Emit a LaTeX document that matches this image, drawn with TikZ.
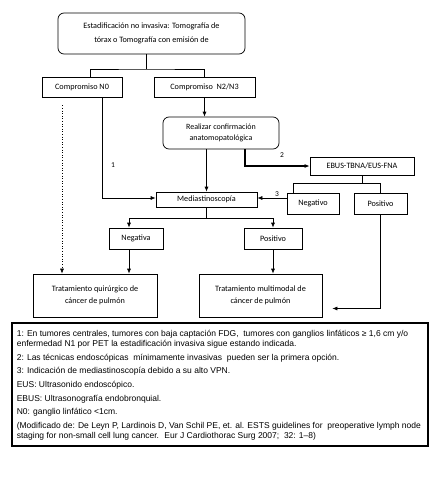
\documentclass[tikz,border=0pt]{standalone}
\usepackage{fontspec}
\setmainfont{Carlito}
\newfontfamily\notefont{Liberation Sans}
\usetikzlibrary{arrows.meta, calc, shadows}

\begin{document}
\begin{tikzpicture}[x=1pt, y=-1pt, >={Latex[length=5pt,width=4pt]}, line width=0.7pt,
  box/.style={draw, fill=white, align=center, font=\fontsize{8.2}{11.5}\selectfont, inner sep=1pt,
    drop shadow={shadow xshift=1.4pt, shadow yshift=-1.4pt, fill=black!55, opacity=1}},
  rbox/.style={draw, fill=white, align=center, rounded corners=6pt, inner sep=1pt}]
  \useasboundingbox (0,0) rectangle (433,479);

  % boxes
  \node[rbox, minimum width=187pt, minimum height=41pt, font=\fontsize{8.2}{14}\selectfont] (top) at (151.5,33.5)
    {Estadificación no invasiva: Tomografía de\\tórax o Tomografía con emisión de};
  \node[box, minimum width=80pt, minimum height=20pt] (n0) at (82,87) {Compromiso N0};
  \node[box, minimum width=101pt, minimum height=20pt] (n23) at (204.5,87) {Compromiso~ N2/N3};
  \node[rbox, minimum width=116pt, minimum height=32pt, font=\fontsize{8}{11.5}\selectfont] (real) at (221,133)
    {Realizar confirmación\\anatomopatológica};
  \node[box, minimum width=104pt, minimum height=18pt] (ebus) at (362,166) {EBUS-TBNA/EUS-FNA};
  \node[box, minimum width=101pt, minimum height=15pt] (med) at (206.5,199.5) {Mediastinoscopía};
  \node[box, minimum width=52pt, minimum height=21pt] (neg3) at (313,203.5) {Negativo};
  \node[box, minimum width=53pt, minimum height=21pt] (pos3) at (380.5,203.5) {Positivo};
  \node[box, minimum width=54pt, minimum height=21pt] (nega) at (136,238.5) {Negativa};
  \node[box, minimum width=58pt, minimum height=21pt] (posi) at (273,238.5) {Positivo};
  \node[box, minimum width=124pt, minimum height=43pt] (quir) at (95,295.5)
    {Tratamiento quirúrgico de\\cáncer de pulmón};
  \node[box, minimum width=123pt, minimum height=43pt] (multi) at (260.5,295.5)
    {Tratamiento multimodal de\\cáncer de pulmón};

  % connectors
  \coordinate (t1) at (146,69);
  \draw (top.south -| t1) -- (t1);
  \draw ([xshift=8pt]n0.north) |- (t1) -| (n23.north);
  \draw[->, dotted, line width=0.6pt] ([xshift=-20pt,yshift=-8pt]n0.south) -- ([xshift=-20pt]n0.south |- quir.north);
  \draw[->] ([xshift=20pt]n0.south) |- ([yshift=1.5pt]med.west);
  \node[font=\fontsize{7.5}{8}\selectfont] (l1) at (113,165) {1};
  \draw[->] (n23.south) -- (n23.south |- real.north);
  \draw[->] (real.south -| med.north) -- (med.north);
  \draw[->, line width=1.6pt] ([xshift=24pt]real.south) |- (ebus.west);
  \node[font=\fontsize{7.5}{8}\selectfont] (l2) at (282,155) {2};
  \draw (ebus.south) -- ++(0,8) coordinate (e1);
  \draw ([xshift=-20pt]neg3.north) |- (e1) -| (pos3.north);
  \draw[<-] ([yshift=1.5pt]med.east) -- ([yshift=1.5pt]med.east -| neg3.west);
  \node[font=\fontsize{7.5}{8}\selectfont] (l3) at (277,194) {3};
  \draw (med.south) -- ++(0,11) coordinate (m1);
  \draw[<->] ([xshift=-7pt]nega.north) |- (m1) -| (posi.north);
  \draw[->] ([xshift=-7pt]nega.south) -- ([xshift=-7pt]nega.south |- quir.north);
  \draw[->] (posi.south) -- (posi.south |- multi.north);
  \draw[->] (pos3.south) |- ([xshift=10pt,yshift=-13pt]multi.east);

  % notes
  \node[draw, line width=1.1pt, fill=white, minimum width=416pt, minimum height=123pt,
    drop shadow={shadow xshift=1pt, shadow yshift=-1pt, fill=black!60, opacity=1}] (notes) at (220,384.5) {};
  \node[anchor=north west, inner sep=0pt, align=left, font=\notefont\fontsize{8.5}{10.6}\selectfont]
    (txt) at ([xshift=5pt,yshift=-7pt]notes.north west)
    {1: En tumores centrales, tumores con baja captación FDG,~ tumores con ganglios linfáticos ≥ 1,6 cm y/o\\
     enfermedad N1 por PET la estadificación invasiva sigue estando indicada.\\[3pt]
     2: Las técnicas endoscópicas~ mínimamente invasivas~ pueden ser la primera opción.\\[3pt]
     3: Indicación de mediastinoscopía debido a su alto VPN.\\[3pt]
     EUS: Ultrasonido endoscópico.\\[3pt]
     EBUS: Ultrasonografía endobronquial.\\[3pt]
     N0: ganglio linfático <1cm.\\[3pt]
     (Modificado de: De Leyn P, Lardinois D, Van Schil PE, et. al. ESTS guidelines for~ preoperative lymph node\\
     staging for non-small cell lung cancer.~ Eur J Cardiothorac Surg 2007;~ 32: 1–8)};
\end{tikzpicture}
\end{document}
